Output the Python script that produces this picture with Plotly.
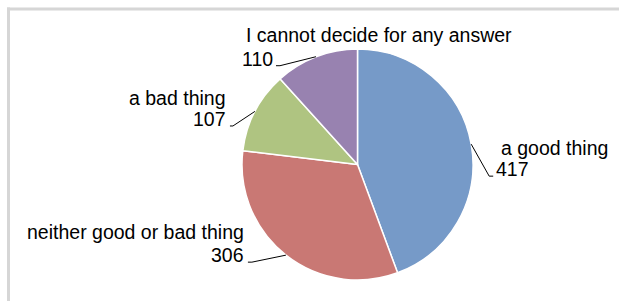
import math
import plotly.graph_objects as go

# ---- data ----
categories = ["a good thing", "neither good or bad thing", "a bad thing", "I cannot decide for any answer"]
values = [417, 306, 107, 110]
colors = ["#769AC8", "#C97874", "#AFC481", "#9882B0"]

# ---- styling / layout (pixels) ----
W, H = 619, 301
CX, CY, R = 357.5, 164.5, 115.5
# per slice: elbow offset from pie edge, tail length, value offset, name offset (relative to leader end)
label_style = [
    dict(elbow=(18, 32), tail=4, val_dx=2, val_anchor="left", name_dx=7, name_dy=-28, name_anchor="left"),
    dict(elbow=(-34, 7), tail=-4, val_dx=-3, val_anchor="right", name_dx=-3, name_dy=-30, name_anchor="right"),
    dict(elbow=(-22, 14.6), tail=-3, val_dx=-3, val_anchor="right", name_dx=-3, name_dy=-28, name_anchor="right"),
    dict(elbow=(-36, 9), tail=-4, val_dx=-2, val_anchor="right", name_dx=-31, name_dy=-31, name_anchor="left"),
]
FONT = dict(family="Liberation Sans, Arial, sans-serif", size=19.5, color="#000000")


def px(x):
    return x / W


def py(y):
    return 1 - y / H


fig = go.Figure(
    go.Pie(
        labels=categories,
        values=values,
        sort=False,
        direction="clockwise",
        rotation=0,
        marker=dict(colors=colors, line=dict(color="#FFFFFF", width=1.5)),
        textinfo="none",
        hoverinfo="label+value",
        showlegend=False,
        domain=dict(x=[px(CX - R), px(CX + R)], y=[py(CY + R), py(CY - R)]),
    )
)

FRAME = dict(color="#D6D6D6", width=3)
shapes = [
    # chart frame: top and left edges (right and bottom run off the picture)
    dict(type="line", xref="paper", yref="paper", x0=px(7), y0=py(9), x1=px(W + 5), y1=py(9), line=FRAME, layer="below"),
    dict(type="line", xref="paper", yref="paper", x0=px(8.5), y0=py(7.5), x1=px(8.5), y1=py(H + 5), line=FRAME, layer="below"),
]
annotations = []

total = sum(values)
cum = 0
for cat, val, st in zip(categories, values, label_style):
    mid = (cum + val / 2) / total * 2 * math.pi
    cum += val
    ex = CX + R * math.sin(mid)
    ey = CY - R * math.cos(mid)
    bx, by = ex + st["elbow"][0], ey + st["elbow"][1]
    tx, ty = bx + st["tail"], by
    shapes.append(dict(type="path", xref="paper", yref="paper",
                       path=f"M {px(ex)},{py(ey)} L {px(bx)},{py(by)} L {px(tx)},{py(ty)}",
                       line=dict(color="#000000", width=1)))
    annotations.append(dict(xref="paper", yref="paper", x=px(tx + st["val_dx"]), y=py(ty - 7),
                            xanchor=st["val_anchor"], yanchor="middle", text=str(val),
                            showarrow=False, font=FONT, borderpad=0))
    annotations.append(dict(xref="paper", yref="paper", x=px(tx + st["name_dx"]), y=py(ty + st["name_dy"]),
                            xanchor=st["name_anchor"], yanchor="middle", text=cat,
                            showarrow=False, font=FONT, borderpad=0))

fig.update_layout(
    width=W, height=H,
    margin=dict(l=0, r=0, t=0, b=0),
    paper_bgcolor="#FFFFFF",
    plot_bgcolor="#FFFFFF",
    shapes=shapes,
    annotations=annotations,
)

fig.write_html(
    "out.html",
    config={"displayModeBar": False},
    post_script="document.body.style.margin='0';document.body.style.overflow='hidden';",
)
